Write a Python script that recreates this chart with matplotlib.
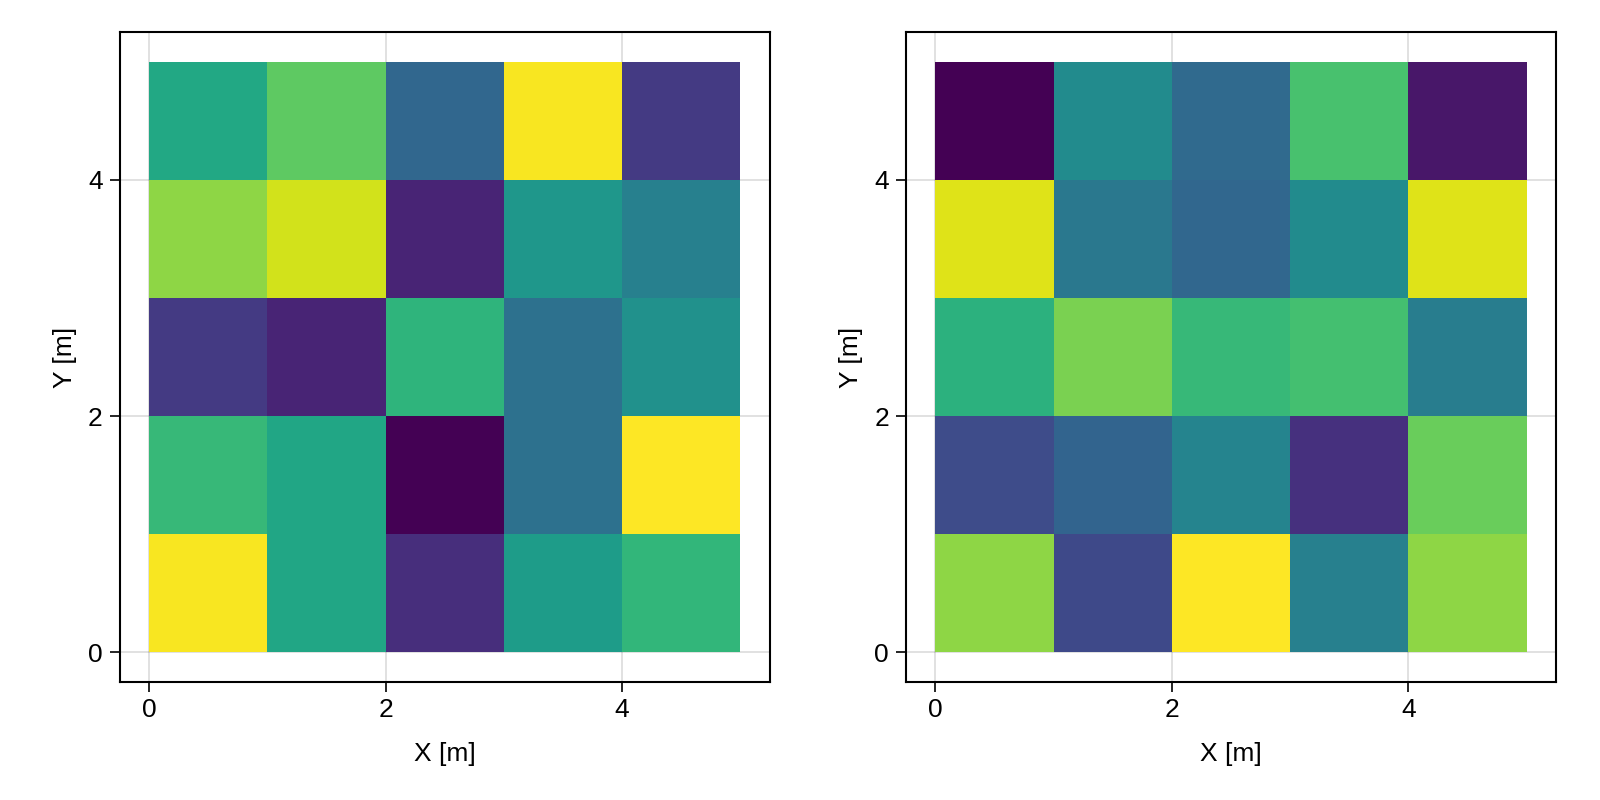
import numpy as np
import matplotlib
matplotlib.use("Agg")
import matplotlib.pyplot as plt

plt.rcParams['font.family'] = ['Liberation Sans', 'DejaVu Sans']

x_edges = [0, 1, 2, 3, 4, 5]
y_edges = [0, 1, 2, 3, 4, 5]
ticks = [0, 2, 4]

# rows listed from y=0 (bottom) to y=4 (top)
left_values = [
    [0.99, 0.59, 0.13, 0.55, 0.66],
    [0.67, 0.59, 0.00, 0.37, 1.00],
    [0.17, 0.10, 0.65, 0.37, 0.50],
    [0.83, 0.93, 0.10, 0.53, 0.43],
    [0.60, 0.75, 0.33, 0.99, 0.17],
]
right_values = [
    [0.83, 0.22, 1.00, 0.43, 0.83],
    [0.23, 0.32, 0.45, 0.14, 0.77],
    [0.64, 0.80, 0.67, 0.70, 0.42],
    [0.95, 0.40, 0.33, 0.48, 0.95],
    [0.00, 0.48, 0.34, 0.71, 0.06],
]

fig = plt.figure(figsize=(16, 8), dpi=100)
axes_pos = [
    [119.5 / 1600, (800 - 681.7) / 800, 650.5 / 1600, 649.4 / 800],
    [905.7 / 1600, (800 - 681.7) / 800, 650.5 / 1600, 649.4 / 800],
]
for pos, vals in zip(axes_pos, [left_values, right_values]):
    ax = fig.add_axes(pos)
    z = np.array(vals)
    ax.pcolormesh(x_edges, y_edges, z, cmap='viridis', vmin=z.min(), vmax=z.max(),
                  shading='flat', antialiased=False, zorder=2)
    ax.set_xlim(-0.25, 5.25)
    ax.set_ylim(-0.25, 5.25)
    ax.set_xticks(ticks)
    ax.set_yticks(ticks)
    ax.grid(True, color='black', alpha=0.12, linewidth=1.4, zorder=0)
    ax.set_axisbelow(True)
    for s in ax.spines.values():
        s.set_linewidth(1.5)
    ax.tick_params(direction='out', length=7, width=1.2, labelsize=19, pad=5)
    ax.set_xlabel('X [m]', fontsize=19, labelpad=14)
    ax.set_ylabel('Y [m]', fontsize=19, labelpad=8)

fig.savefig('out.png', dpi=100)
